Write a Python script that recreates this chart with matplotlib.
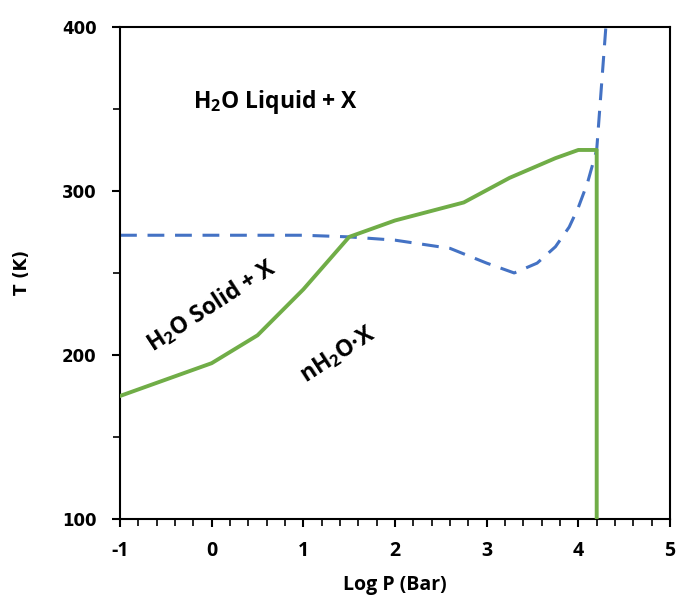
import matplotlib
matplotlib.use("Agg")
import matplotlib.pyplot as plt
from matplotlib.ticker import MultipleLocator

plt.rcParams['axes.unicode_minus'] = False

# green phase boundary (solid line)
green_logp = [-1, 0, 0.5, 1, 1.5, 2, 2.75, 3.25, 3.75, 4.0, 4.2, 4.2]
green_t = [175, 195, 212, 240, 272, 282, 293, 308, 320, 325, 325, 100]

# blue water boundary (dashed)
blue_logp = [-1, 0, 1, 1.5, 2, 2.6, 3.0, 3.3, 3.55, 3.75, 3.9, 4.0, 4.1, 4.2, 4.3]
blue_t = [273, 273, 273, 272, 270, 265, 256, 250, 256, 266, 278, 290, 305, 325, 400]

labels = [r"H$_\mathbf{2}$O Liquid + X", r"H$_\mathbf{2}$O Solid + X", "nH$_\\mathbf{2}$O\u00b7X"]
label_pos = [(0.7, 354), (0.0, 230), (1.38, 200)]
label_rot = [0, 33, 33]

plt.rcParams['mathtext.fontset'] = 'custom'
plt.rcParams['mathtext.bf'] = 'Open Sans:bold'
plt.rcParams['mathtext.rm'] = 'Open Sans:bold'

fig = plt.figure(figsize=(6.77, 5.99), dpi=100)
ax = fig.add_axes([0.1773, 0.1336, 0.8124, 0.8214])

ax.plot(blue_logp, blue_t, color="#4472C4", lw=2.2, dashes=(5.5, 3.5), zorder=2)
ax.plot(green_logp, green_t, color="#70AD47", lw=2.8, zorder=3)

for txt, (x, y), r in zip(labels, label_pos, label_rot):
    ax.text(x, y, txt, ha="center", va="center", rotation=r, fontsize=16.5,
            fontweight="bold", family="Open Sans")

ax.set_xlim(-1, 5)
ax.set_ylim(100, 400)
ax.xaxis.set_major_locator(MultipleLocator(1))
ax.xaxis.set_minor_locator(MultipleLocator(0.2))
ax.yaxis.set_major_locator(MultipleLocator(100))
ax.yaxis.set_minor_locator(MultipleLocator(50))
ax.tick_params(which="major", direction="out", length=6, width=1.5)
ax.tick_params(which="minor", direction="out", length=5, width=1.2)
ax.tick_params(axis="x", which="major", pad=10)
ax.tick_params(axis="y", which="major", pad=11)

for s in ax.spines.values():
    s.set_linewidth(1.5)

for t in ax.get_xticklabels():
    t.set_family("Open Sans")
    t.set_fontweight("bold")
    t.set_fontsize(14)
for t in ax.get_yticklabels():
    t.set_family("DejaVu Sans")
    t.set_fontweight("bold")
    t.set_fontsize(12)

ax.set_xlabel("Log P (Bar)", family="Open Sans", fontweight="bold", fontsize=14, labelpad=10)
ax.set_ylabel("T (K)", family="DejaVu Sans", fontweight="bold", fontsize=12, labelpad=22)

fig.savefig("out.png", dpi=100)
